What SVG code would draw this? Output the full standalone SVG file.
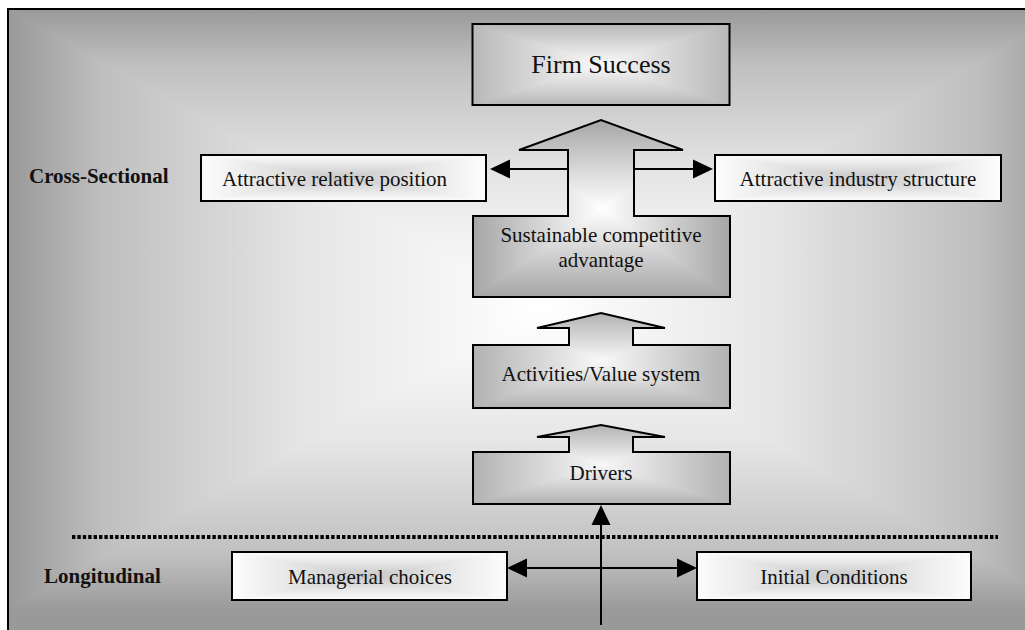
<svg xmlns="http://www.w3.org/2000/svg" xmlns:xlink="http://www.w3.org/1999/xlink" width="1025" height="630" viewBox="0 0 1025 630">
  <style>
    .iso { isolation: isolate; }
    .dk { mix-blend-mode: darken; }
    .lt { mix-blend-mode: lighten; }
    .edge { fill: none; stroke: #000; stroke-width: 2; stroke-linejoin: miter; }
    .lbl { font-family: "Liberation Serif", "Times New Roman", serif; font-size: 21px; fill: #111; }
    .big { font-size: 26px; }
    .side { font-family: "Liberation Serif", "Times New Roman", serif; font-size: 21px; font-weight: bold; fill: #111; }
    .mid { text-anchor: middle; }
    .wire { fill: none; stroke: #000; stroke-width: 2; }
  </style>
  <defs>
    <!-- background: rectangular "from centre" shading built from two ramps -->
    <linearGradient id="bgX" gradientUnits="userSpaceOnUse" x1="8" y1="0" x2="1072" y2="0">
      <stop offset="0" stop-color="#999"/><stop offset="0.09" stop-color="#bfbfbf"/><stop offset="0.28" stop-color="#e6e6e6"/><stop offset="0.5" stop-color="#fff"/>
      <stop offset="0.72" stop-color="#e6e6e6"/><stop offset="0.91" stop-color="#bfbfbf"/><stop offset="1" stop-color="#999"/>
    </linearGradient>
    <linearGradient id="bgY" gradientUnits="userSpaceOnUse" x1="0" y1="9" x2="0" y2="611">
      <stop offset="0" stop-color="#999"/><stop offset="0.09" stop-color="#bfbfbf"/><stop offset="0.28" stop-color="#e6e6e6"/><stop offset="0.5" stop-color="#fff"/>
      <stop offset="0.72" stop-color="#e6e6e6"/><stop offset="0.91" stop-color="#bfbfbf"/><stop offset="1" stop-color="#999"/>
    </linearGradient>

    <!-- grey-edged boxes -->
    <linearGradient id="fsX" x1="0" y1="0" x2="1" y2="0">
      <stop offset="0" stop-color="#b8b8b8"/><stop offset="0.5" stop-color="#fafafa"/><stop offset="1" stop-color="#b8b8b8"/>
    </linearGradient>
    <linearGradient id="fsY" x1="0" y1="0" x2="0" y2="1">
      <stop offset="0" stop-color="#b8b8b8"/><stop offset="0.5" stop-color="#fafafa"/><stop offset="1" stop-color="#b8b8b8"/>
    </linearGradient>
    <linearGradient id="scX" x1="0" y1="0" x2="1" y2="0">
      <stop offset="0" stop-color="#a6a6a6"/><stop offset="0.5" stop-color="#fff"/><stop offset="1" stop-color="#a6a6a6"/>
    </linearGradient>
    <linearGradient id="scY" x1="0" y1="0" x2="0" y2="1">
      <stop offset="0" stop-color="#a6a6a6"/><stop offset="0.5" stop-color="#fff"/><stop offset="1" stop-color="#a6a6a6"/>
    </linearGradient>
    <linearGradient id="avX" x1="0" y1="0" x2="1" y2="0">
      <stop offset="0" stop-color="#b2b2b2"/><stop offset="0.5" stop-color="#f8f8f8"/><stop offset="1" stop-color="#b2b2b2"/>
    </linearGradient>
    <linearGradient id="avY" x1="0" y1="0" x2="0" y2="1">
      <stop offset="0" stop-color="#b2b2b2"/><stop offset="0.5" stop-color="#f8f8f8"/><stop offset="1" stop-color="#b2b2b2"/>
    </linearGradient>

    <!-- white-edged boxes with a soft grey centre -->
    <linearGradient id="wbX" x1="0" y1="0" x2="1" y2="0">
      <stop offset="0" stop-color="#fdfdfd"/><stop offset="0.5" stop-color="#c8c8c8"/><stop offset="1" stop-color="#fdfdfd"/>
    </linearGradient>
    <linearGradient id="wbY" x1="0" y1="0" x2="0" y2="1">
      <stop offset="0" stop-color="#fdfdfd"/><stop offset="0.5" stop-color="#c8c8c8"/><stop offset="1" stop-color="#fdfdfd"/>
    </linearGradient>

    <!-- up-arrow callout outlines -->
    <path id="shp-sca" d="M473,216 H568 V150 H519 L601,120 L683,150 H634 V216 H730 V297 H473 Z"/>
    <path id="shp-act" d="M473,345 H569 V328 H537 L601,313 L665,328 H633 V345 H730 V408 H473 Z"/>
    <path id="shp-drv" d="M473,452 H569 V437 H537 L601,425 L665,437 H633 V452 H730 V504 H473 Z"/>
    <clipPath id="clip-sca"><use xlink:href="#shp-sca"/></clipPath>
    <clipPath id="clip-act"><use xlink:href="#shp-act"/></clipPath>
    <clipPath id="clip-drv"><use xlink:href="#shp-drv"/></clipPath>

    <marker id="head" viewBox="0 0 20 20" markerUnits="userSpaceOnUse" markerWidth="20" markerHeight="20" refX="18" refY="10" orient="auto-start-reverse">
      <path d="M0,0.5 L20,10 L0,19.5 Z" fill="#000"/>
    </marker>
  </defs>

  <!-- frame -->
  <g id="frame">
    <g class="iso">
      <rect x="8" y="9" width="1030" height="640" fill="url(#bgX)"/>
      <rect x="8" y="9" width="1030" height="640" fill="url(#bgY)" class="dk"/>
    </g>
    <rect x="8" y="9" width="1030" height="640" class="edge"/>
  </g>

  <!-- side headings -->
  <g id="label-cross">
    <text x="29" y="183" class="side">Cross-Sectional</text>
  </g>
  <g id="label-long">
    <text x="44" y="583" class="side">Longitudinal</text>
  </g>

  <!-- separator between the two views -->
  <g id="divider">
    <line x1="72" y1="537" x2="998" y2="537" stroke="#000" stroke-width="4" stroke-dasharray="3.4 2"/>
  </g>

  <g id="node-firm-success">
    <g class="iso">
      <rect x="472.5" y="24" width="257" height="81" fill="url(#fsX)"/>
      <rect x="472.5" y="24" width="257" height="81" fill="url(#fsY)" class="dk"/>
    </g>
    <rect x="472.5" y="24" width="257" height="81" class="edge"/>
    <text x="601" y="73" class="lbl big mid">Firm Success</text>
  </g>

  <g id="node-relative-position">
    <g class="iso">
      <rect x="201" y="155" width="285" height="46" fill="url(#wbX)"/>
      <rect x="201" y="155" width="285" height="46" fill="url(#wbY)" class="lt"/>
    </g>
    <rect x="201" y="155" width="285" height="46" class="edge"/>
    <text x="222" y="186" class="lbl">Attractive relative position</text>
  </g>

  <g id="node-industry-structure">
    <g class="iso">
      <rect x="715" y="155" width="286" height="46" fill="url(#wbX)"/>
      <rect x="715" y="155" width="286" height="46" fill="url(#wbY)" class="lt"/>
    </g>
    <rect x="715" y="155" width="286" height="46" class="edge"/>
    <text x="858" y="186" class="lbl mid">Attractive industry structure</text>
  </g>

  <g id="node-sca">
    <g class="iso" clip-path="url(#clip-sca)">
      <rect x="473" y="120" width="257" height="177" fill="url(#scX)"/>
      <rect x="473" y="120" width="257" height="177" fill="url(#scY)" class="dk"/>
    </g>
    <use xlink:href="#shp-sca" class="edge"/>
    <text x="601" y="242" class="lbl mid">Sustainable competitive</text>
    <text x="601" y="267" class="lbl mid">advantage</text>
  </g>

  <g id="node-activities">
    <g class="iso" clip-path="url(#clip-act)">
      <rect x="473" y="313" width="257" height="95" fill="url(#avX)"/>
      <rect x="473" y="313" width="257" height="95" fill="url(#avY)" class="dk"/>
    </g>
    <use xlink:href="#shp-act" class="edge"/>
    <text x="601" y="381" class="lbl mid">Activities/Value system</text>
  </g>

  <g id="node-drivers">
    <g class="iso" clip-path="url(#clip-drv)">
      <rect x="473" y="425" width="257" height="79" fill="url(#avX)"/>
      <rect x="473" y="425" width="257" height="79" fill="url(#avY)" class="dk"/>
    </g>
    <use xlink:href="#shp-drv" class="edge"/>
    <text x="601" y="480" class="lbl mid">Drivers</text>
  </g>

  <g id="node-managerial">
    <g class="iso">
      <rect x="232" y="552" width="275" height="48" fill="url(#wbX)"/>
      <rect x="232" y="552" width="275" height="48" fill="url(#wbY)" class="lt"/>
    </g>
    <rect x="232" y="552" width="275" height="48" class="edge"/>
    <text x="370" y="584" class="lbl mid">Managerial choices</text>
  </g>

  <g id="node-initial">
    <g class="iso">
      <rect x="697" y="552" width="274" height="48" fill="url(#wbX)"/>
      <rect x="697" y="552" width="274" height="48" fill="url(#wbY)" class="lt"/>
    </g>
    <rect x="697" y="552" width="274" height="48" class="edge"/>
    <text x="834" y="584" class="lbl mid">Initial Conditions</text>
  </g>

  <g id="connectors">
    <line x1="568" y1="169" x2="492" y2="169" class="wire" marker-end="url(#head)"/>
    <line x1="634" y1="169" x2="711" y2="169" class="wire" marker-end="url(#head)"/>
    <line x1="509" y1="568" x2="695" y2="568" class="wire" marker-start="url(#head)" marker-end="url(#head)"/>
    <line x1="601" y1="625" x2="601" y2="507" class="wire" marker-end="url(#head)"/>
  </g>
</svg>
